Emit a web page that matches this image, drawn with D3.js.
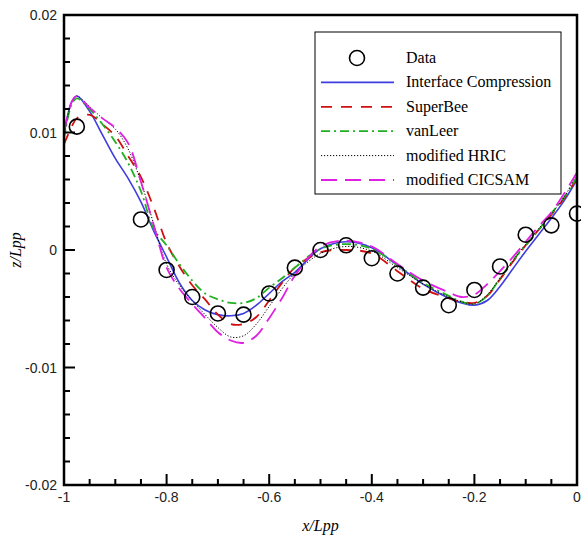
<!DOCTYPE html>
<html>
<head>
<meta charset="utf-8">
<script src="https://cdn.jsdelivr.net/npm/d3@7"></script>
<style>
  body { margin: 0; background: #fff; }
  svg { display: block; }
</style>
</head>
<body>
<script>
// ---------- data ----------
const xGrid = [-1, -0.985, -0.975, -0.95, -0.925, -0.9, -0.875, -0.85, -0.825, -0.8,
  -0.775, -0.75, -0.725, -0.7, -0.675, -0.65, -0.625, -0.6, -0.575, -0.55,
  -0.5, -0.45, -0.4, -0.35, -0.3, -0.25, -0.225, -0.2, -0.175, -0.15,
  -0.125, -0.1, -0.075, -0.05, -0.025, 0];

const zIC = [0.0098, 0.0126, 0.0131, 0.0118, 0.0098, 0.0078, 0.0061, 0.0041, 0.0016, -0.0006,
  -0.0028, -0.0043, -0.0051, -0.0055, -0.0056, -0.0054, -0.0047, -0.0037, -0.0027, -0.0019,
  0.0001, 0.0007, 0.0002, -0.0013, -0.0029, -0.0041, -0.0045, -0.0047, -0.0043, -0.0031,
  -0.0016, -0.0001, 0.0013, 0.0027, 0.0042, 0.0060];

const zSuperBee = [0.0090, 0.0105, 0.0112, 0.0115, 0.0107, 0.0097, 0.0080, 0.0062, 0.0036, 0.0006,
  -0.0014, -0.0030, -0.0042, -0.0055, -0.0063, -0.0063, -0.0057, -0.0043, -0.0028, -0.0015,
  -0.0002, 0.0000, -0.0003, -0.0018, -0.0033, -0.0041, -0.0044, -0.0045, -0.0039, -0.0025,
  -0.0010, 0.0004, 0.0017, 0.0030, 0.0044, 0.0061];

const zVanLeer = [0.0095, 0.0124, 0.0129, 0.0120, 0.0107, 0.0092, 0.0074, 0.0050, 0.0018, 0.0004,
  -0.0012, -0.0026, -0.0037, -0.0042, -0.0045, -0.0045, -0.0041, -0.0032, -0.0024, -0.0015,
  0.0001, 0.0005, 0.0001, -0.0013, -0.0028, -0.0039, -0.0044, -0.0046, -0.0039, -0.0024,
  -0.0009, 0.0004, 0.0017, 0.0031, 0.0045, 0.0062];

const zHRIC = [0.0095, 0.0126, 0.0131, 0.0122, 0.0112, 0.0103, 0.0086, 0.0058, 0.0022, -0.0012,
  -0.0030, -0.0043, -0.0055, -0.0066, -0.0074, -0.0073, -0.0063, -0.0048, -0.0033, -0.0020,
  -0.0003, 0.0003, -0.0001, -0.0015, -0.0029, -0.0040, -0.0044, -0.0046, -0.0038, -0.0024,
  -0.0009, 0.0005, 0.0018, 0.0031, 0.0045, 0.0065];

const zCICSAM = [0.0100, 0.0126, 0.0131, 0.0121, 0.0112, 0.0104, 0.0091, 0.0058, 0.0021, -0.0015,
  -0.0033, -0.0046, -0.0058, -0.0070, -0.0077, -0.0079, -0.0073, -0.0058, -0.0041, -0.0022,
  0.0003, 0.0008, 0.0003, -0.0012, -0.0026, -0.0036, -0.0040, -0.0038, -0.0029, -0.0018,
  -0.0006, 0.0007, 0.0020, 0.0032, 0.0048, 0.0066];

const dataX = [-0.975, -0.85, -0.8, -0.75, -0.7, -0.65, -0.6, -0.55, -0.5, -0.45,
  -0.4, -0.35, -0.3, -0.25, -0.2, -0.15, -0.1, -0.05, 0];
const dataZ = [0.0105, 0.0026, -0.0017, -0.0040, -0.0054, -0.0055, -0.0037, -0.0015, 0.0000, 0.0004,
  -0.0007, -0.0020, -0.0032, -0.0047, -0.0034, -0.0014, 0.0013, 0.0021, 0.0031];

const seriesNames = ["Interface Compression", "SuperBee", "vanLeer", "modified HRIC", "modified CICSAM"];
const seriesValues = [zIC, zSuperBee, zVanLeer, zHRIC, zCICSAM];

const xMajor = [-1, -0.8, -0.6, -0.4, -0.2, 0];
const yMajor = [-0.02, -0.01, 0, 0.01, 0.02];
const xTickLabels = ["-1", "-0.8", "-0.6", "-0.4", "-0.2", "0"];
const yTickLabels = ["-0.02", "-0.01", "0", "0.01", "0.02"];

// ---------- styles ----------
const styles = [
  {color: "#3d3de0", dash: null, width: 1.6},
  {color: "#d01010", dash: "11,9", width: 1.8},
  {color: "#20b020", dash: "9,4,2,4", width: 1.8},
  {color: "#000000", dash: "1.2,1.8", width: 1},
  {color: "#e020e0", dash: "16,8", width: 1.8}
];

// ---------- canvas ----------
const W = 581, H = 537;
const plot = {left: 64, right: 577, top: 15, bottom: 485};

const svg = d3.select("body").append("svg")
  .attr("width", W)
  .attr("height", H);

const x = d3.scaleLinear().domain([-1, 0]).range([plot.left, plot.right]);
const y = d3.scaleLinear().domain([-0.02, 0.02]).range([plot.bottom, plot.top]);

// curves
const line = d3.line()
  .x((d) => x(d[0]))
  .y((d) => y(d[1]))
  .curve(d3.curveCatmullRom.alpha(0.5));

seriesValues.forEach((vals, i) => {
  const pts = xGrid.map((xv, j) => [xv, vals[j]]);
  svg.append("path")
    .datum(pts)
    .attr("fill", "none")
    .attr("stroke", styles[i].color)
    .attr("stroke-width", styles[i].width)
    .attr("stroke-dasharray", styles[i].dash)
    .attr("d", line);
});

// data circles
svg.selectAll("circle.data")
  .data(dataX.map((xv, i) => [xv, dataZ[i]]))
  .enter()
  .append("circle")
    .attr("class", "data")
    .attr("cx", (d) => x(d[0]))
    .attr("cy", (d) => y(d[1]))
    .attr("r", 7.5)
    .attr("fill", "none")
    .attr("stroke", "#000")
    .attr("stroke-width", 1.6);

// ---------- axes (drawn by hand, ticks inward) ----------
const frame = svg.append("g");
frame.append("rect")
  .attr("x", plot.left).attr("y", plot.top)
  .attr("width", plot.right - plot.left).attr("height", plot.bottom - plot.top)
  .attr("fill", "none").attr("stroke", "#000").attr("stroke-width", 2.5);

// x ticks: minor every 0.05, major every 0.2
const xMinor = d3.range(-1, 0.0001, 0.05).map((v) => +v.toFixed(2));
frame.selectAll("line.xt")
  .data(xMinor)
  .enter().append("line")
    .attr("x1", (d) => x(d)).attr("x2", (d) => x(d))
    .attr("y1", plot.bottom)
    .attr("y2", (d) => plot.bottom - (xMajor.some((m) => Math.abs(m - d) < 1e-6) ? 11 : 6))
    .attr("stroke", "#000").attr("stroke-width", 2);

const yMinor = d3.range(-0.02, 0.02001, 0.002).map((v) => +v.toFixed(3));
frame.selectAll("line.yt")
  .data(yMinor)
  .enter().append("line")
    .attr("y1", (d) => y(d)).attr("y2", (d) => y(d))
    .attr("x1", plot.left)
    .attr("x2", (d) => plot.left + (yMajor.some((m) => Math.abs(m - d) < 1e-6) ? 11 : 6))
    .attr("stroke", "#000").attr("stroke-width", 2);

// tick labels
svg.selectAll("text.xl")
  .data(xMajor)
  .enter().append("text")
    .attr("x", (d) => x(d))
    .attr("y", plot.bottom + 17)
    .attr("text-anchor", "middle")
    .style("font-family", "'Liberation Sans', Arial, sans-serif")
    .style("font-size", "14px")
    .attr("fill", "#222")
    .text((d, i) => xTickLabels[i]);

svg.selectAll("text.yl")
  .data(yMajor)
  .enter().append("text")
    .attr("x", plot.left - 7)
    .attr("y", (d) => y(d) + 5)
    .attr("text-anchor", "end")
    .style("font-family", "'Liberation Sans', Arial, sans-serif")
    .style("font-size", "14px")
    .attr("fill", "#222")
    .text((d, i) => yTickLabels[i]);

// axis titles
svg.append("text")
  .attr("x", (plot.left + plot.right) / 2)
  .attr("y", 531)
  .attr("text-anchor", "middle")
  .style("font-family", "'Liberation Serif', 'Times New Roman', serif")
  .style("font-style", "italic")
  .style("font-size", "16px")
  .text("x/Lpp");

svg.append("text")
  .attr("transform", "translate(21," + y(0) + ") rotate(-90)")
  .attr("text-anchor", "middle")
  .style("font-family", "'Liberation Serif', 'Times New Roman', serif")
  .style("font-style", "italic")
  .style("font-size", "16px")
  .text("z/Lpp");

// ---------- legend ----------
const legend = svg.append("g");
legend.append("rect")
  .attr("x", 315).attr("y", 32)
  .attr("width", 246).attr("height", 162)
  .attr("fill", "#fff").attr("stroke", "#000").attr("stroke-width", 1);

const legRowY = (i) => 58 + i * 24.4;

legend.append("circle")
  .attr("cx", 357).attr("cy", legRowY(0))
  .attr("r", 7.5)
  .attr("fill", "none").attr("stroke", "#000").attr("stroke-width", 1.6);

seriesNames.forEach((name, i) => {
  legend.append("line")
    .attr("x1", 321).attr("x2", 394)
    .attr("y1", legRowY(i + 1)).attr("y2", legRowY(i + 1))
    .attr("stroke", styles[i].color)
    .attr("stroke-width", styles[i].width)
    .attr("stroke-dasharray", styles[i].dash);
});

["Data"].concat(seriesNames).forEach((name, i) => {
  legend.append("text")
    .attr("x", 406)
    .attr("y", legRowY(i) + 5)
    .style("font-family", "'Liberation Serif', 'Times New Roman', serif")
    .style("font-size", "16px")
    .text(name);
});
</script>
</body>
</html>
